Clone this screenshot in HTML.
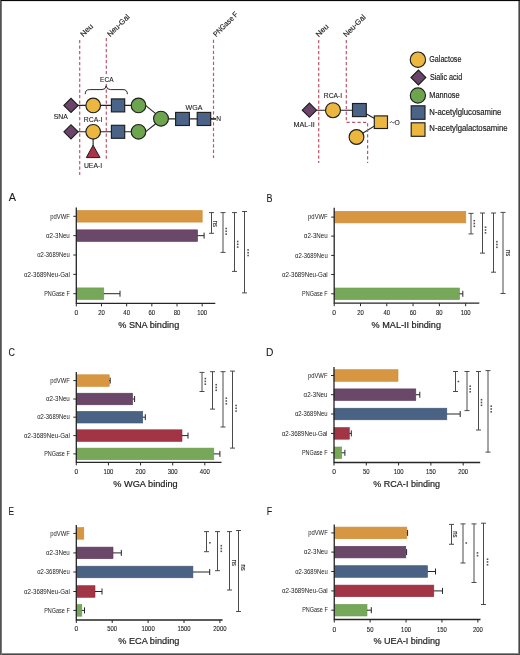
<!DOCTYPE html>
<html><head><meta charset="utf-8"><title>Lectin binding figure</title>
<style>
html,body{margin:0;padding:0;background:#fff;}
body{width:520px;height:655px;overflow:hidden;}
svg{display:block;font-family:"Liberation Sans",sans-serif;will-change:transform;}
</style></head>
<body>
<svg width="520" height="655" viewBox="0 0 520 655">
<rect width="520" height="655" fill="#fff"/>
<rect x="0" y="0" width="520" height="1" fill="#070707"/>
<rect x="0" y="1" width="520" height="1" fill="#e6e6e6"/>
<rect x="0" y="0" width="1" height="655" fill="#525252"/>
<rect x="1" y="1" width="1" height="654" fill="#7a7a7a"/>
<rect x="518" y="1" width="1" height="653" fill="#8c8c8c"/>
<rect x="519" y="1" width="1" height="654" fill="#474747"/>
<rect x="2" y="653" width="516" height="1" fill="#8c8c8c"/>
<rect x="2" y="654" width="517" height="1" fill="#474747"/>
<line x1="71" y1="105.4" x2="138.5" y2="105.4" stroke="#222" stroke-width="1.1"/>
<line x1="71" y1="131.8" x2="138.5" y2="131.8" stroke="#222" stroke-width="1.1"/>
<line x1="145.8" y1="105.60000000000001" x2="156.0" y2="113.9" stroke="#222" stroke-width="1.1"/>
<line x1="145.8" y1="131.60000000000002" x2="156.0" y2="123.5" stroke="#222" stroke-width="1.1"/>
<line x1="161" y1="118.9" x2="216" y2="118.9" stroke="#222" stroke-width="1.1"/>
<line x1="93.1" y1="131.8" x2="93.1" y2="146" stroke="#222" stroke-width="1.1"/>
<path d="M79.7,40 L79.7,175" fill="none" stroke="#be566a" stroke-width="1.2" stroke-dasharray="3.2 2.3"/>
<path d="M106.3,38 L106.3,74" fill="none" stroke="#be566a" stroke-width="1.2" stroke-dasharray="3.2 2.3"/>
<path d="M106.3,84 L106.3,159" fill="none" stroke="#be566a" stroke-width="1.2" stroke-dasharray="3.2 2.3"/>
<path d="M213.5,39.7 L213.5,158" fill="none" stroke="#be566a" stroke-width="1.2" stroke-dasharray="3.2 2.3"/>
<path d="M63.9,105.4 L71,98.30000000000001 L78.1,105.4 L71,112.5 Z" fill="#6c446b" stroke="#1e1e1e" stroke-width="1.15"/>
<circle cx="93.2" cy="105.4" r="7.3" fill="#ebb73f" stroke="#1e1e1e" stroke-width="1.15"/>
<rect x="111.4" y="98.9" width="13.3" height="13" fill="#4a6387" stroke="#1e1e1e" stroke-width="1.15"/>
<circle cx="138.5" cy="105.4" r="7.3" fill="#6da54f" stroke="#1e1e1e" stroke-width="1.15"/>
<path d="M63.9,131.8 L71,124.70000000000002 L78.1,131.8 L71,138.9 Z" fill="#6c446b" stroke="#1e1e1e" stroke-width="1.15"/>
<circle cx="93.2" cy="131.8" r="7.3" fill="#ebb73f" stroke="#1e1e1e" stroke-width="1.15"/>
<rect x="111.4" y="125.30000000000001" width="13.3" height="13" fill="#4a6387" stroke="#1e1e1e" stroke-width="1.15"/>
<circle cx="138.5" cy="131.8" r="7.3" fill="#6da54f" stroke="#1e1e1e" stroke-width="1.15"/>
<circle cx="161.0" cy="118.7" r="7.4" fill="#6da54f" stroke="#1e1e1e" stroke-width="1.15"/>
<rect x="175.6" y="112.4" width="13.8" height="13.1" fill="#4a6387" stroke="#1e1e1e" stroke-width="1.15"/>
<rect x="197.2" y="112.4" width="13.5" height="13.1" fill="#4a6387" stroke="#1e1e1e" stroke-width="1.15"/>
<path d="M93.1,145.2 L86.3,157.6 L100,157.6 Z" fill="#ab3247" stroke="#1e1e1e" stroke-width="1"/>
<path d="M85.2,94.2 Q85.2,89.6 89.5,89.6 L102,89.6 Q105.8,89.6 106.2,85.8 Q106.6,89.6 110.4,89.6 L123,89.6 Q127.4,89.6 127.4,94.2" fill="none" stroke="#2a2a2a" stroke-width="1"/>
<text x="106.80" y="81.80" font-size="7.4" text-anchor="middle" fill="#1c1c1c" stroke="#1c1c1c" stroke-width="0.12" textLength="13.40" lengthAdjust="spacingAndGlyphs" >ECA</text>
<text x="53.80" y="118.80" font-size="7.4" text-anchor="start" fill="#1c1c1c" stroke="#1c1c1c" stroke-width="0.12" textLength="14.10" lengthAdjust="spacingAndGlyphs" >SNA</text>
<text x="83.80" y="122.30" font-size="7.4" text-anchor="start" fill="#1c1c1c" stroke="#1c1c1c" stroke-width="0.12" textLength="18.60" lengthAdjust="spacingAndGlyphs" >RCA-I</text>
<text x="83.90" y="168.00" font-size="7.4" text-anchor="start" fill="#1c1c1c" stroke="#1c1c1c" stroke-width="0.12" textLength="18.30" lengthAdjust="spacingAndGlyphs" >UEA-I</text>
<text x="185.60" y="109.90" font-size="8.0" text-anchor="start" fill="#1c1c1c" stroke="#1c1c1c" stroke-width="0.12" textLength="16.90" lengthAdjust="spacingAndGlyphs" >WGA</text>
<text x="216.20" y="120.60" font-size="7.4" text-anchor="start" fill="#1c1c1c" stroke="#1c1c1c" stroke-width="0.12" textLength="4.80" lengthAdjust="spacingAndGlyphs" >N</text>
<line x1="210.7" y1="118.9" x2="216.0" y2="118.9" stroke="#222" stroke-width="1.1"/>
<text x="0" y="0" font-size="7.6" fill="#1c1c1c" stroke="#1c1c1c" stroke-width="0.15" textLength="14.7" lengthAdjust="spacingAndGlyphs" transform="translate(83.2,37.2) rotate(-45)">Neu</text>
<text x="0" y="0" font-size="7.6" fill="#1c1c1c" stroke="#1c1c1c" stroke-width="0.15" textLength="28.1" lengthAdjust="spacingAndGlyphs" transform="translate(110.2,37.2) rotate(-45)">Neu-Gal</text>
<text x="0" y="0" font-size="7.6" fill="#1c1c1c" stroke="#1c1c1c" stroke-width="0.15" textLength="31.6" lengthAdjust="spacingAndGlyphs" transform="translate(216.2,37.2) rotate(-45)">PNGase F</text>
<line x1="309.4" y1="110.2" x2="359" y2="110.2" stroke="#222" stroke-width="1.1"/>
<line x1="359.4" y1="110" x2="380.8" y2="122.1" stroke="#222" stroke-width="1.1"/>
<line x1="356.5" y1="137" x2="380.8" y2="122.1" stroke="#222" stroke-width="1.1"/>
<path d="M318.7,40 L318.7,163" fill="none" stroke="#be566a" stroke-width="1.2" stroke-dasharray="3.2 2.3"/>
<path d="M346.3,40 L346.3,122.3 L367.6,122.3 L367.6,163" fill="none" stroke="#be566a" stroke-width="1.2" stroke-dasharray="3.2 2.3"/>
<path d="M302.29999999999995,110.2 L309.4,103.10000000000001 L316.5,110.2 L309.4,117.3 Z" fill="#6c446b" stroke="#1e1e1e" stroke-width="1.15"/>
<circle cx="333.0" cy="110.2" r="7.5" fill="#ebb73f" stroke="#1e1e1e" stroke-width="1.15"/>
<rect x="352.5" y="103.5" width="13.8" height="13.1" fill="#4a6387" stroke="#1e1e1e" stroke-width="1.15"/>
<rect x="374.3" y="115.9" width="13.2" height="12.6" fill="#ebb73f" stroke="#1e1e1e" stroke-width="1.15"/>
<circle cx="356.5" cy="137.0" r="7.4" fill="#ebb73f" stroke="#1e1e1e" stroke-width="1.15"/>
<text x="323.80" y="97.60" font-size="7.4" text-anchor="start" fill="#1c1c1c" stroke="#1c1c1c" stroke-width="0.12" textLength="18.40" lengthAdjust="spacingAndGlyphs" >RCA-I</text>
<text x="293.50" y="127.20" font-size="7.4" text-anchor="start" fill="#1c1c1c" stroke="#1c1c1c" stroke-width="0.12" textLength="21.20" lengthAdjust="spacingAndGlyphs" >MAL-II</text>
<path d="M389.9,122.9 C390.9,121.3 391.9,121.5 392.4,122.3 C392.9,123.1 393.8,123.2 394.7,121.7" fill="none" stroke="#2b2b2b" stroke-width="0.8"/>
<text x="394.60" y="124.90" font-size="8.0" text-anchor="start" fill="#1c1c1c" stroke="#1c1c1c" stroke-width="0.1" textLength="5.30" lengthAdjust="spacingAndGlyphs" >O</text>
<text x="0" y="0" font-size="7.6" fill="#1c1c1c" stroke="#1c1c1c" stroke-width="0.15" textLength="14.7" lengthAdjust="spacingAndGlyphs" transform="translate(318.7,37.4) rotate(-45)">Neu</text>
<text x="0" y="0" font-size="7.6" fill="#1c1c1c" stroke="#1c1c1c" stroke-width="0.15" textLength="28.1" lengthAdjust="spacingAndGlyphs" transform="translate(346.3,37.5) rotate(-45)">Neu-Gal</text>
<circle cx="417.9" cy="59.7" r="7.7" fill="#ebb73f" stroke="#1e1e1e" stroke-width="1.15"/>
<path d="M411.0,77.5 L418.4,70.1 L425.79999999999995,77.5 L418.4,84.9 Z" fill="#6c446b" stroke="#1e1e1e" stroke-width="1.15"/>
<circle cx="417.9" cy="95.5" r="7.6" fill="#6da54f" stroke="#1e1e1e" stroke-width="1.15"/>
<rect x="411.2" y="105.8" width="13.8" height="13.5" fill="#4a6387" stroke="#1e1e1e" stroke-width="1.15"/>
<rect x="411.2" y="122.8" width="13.8" height="13.5" fill="#ebb73f" stroke="#1e1e1e" stroke-width="1.15"/>
<text x="429.30" y="62.30" font-size="8.5" text-anchor="start" fill="#1c1c1c" stroke="#1c1c1c" stroke-width="0.18" textLength="32.10" lengthAdjust="spacingAndGlyphs" >Galactose</text>
<text x="429.90" y="79.50" font-size="8.5" text-anchor="start" fill="#1c1c1c" stroke="#1c1c1c" stroke-width="0.18" textLength="32.30" lengthAdjust="spacingAndGlyphs" >Sialic acid</text>
<text x="429.30" y="97.90" font-size="8.5" text-anchor="start" fill="#1c1c1c" stroke="#1c1c1c" stroke-width="0.18" textLength="30.30" lengthAdjust="spacingAndGlyphs" >Mannose</text>
<text x="429.30" y="115.20" font-size="8.5" text-anchor="start" fill="#1c1c1c" stroke="#1c1c1c" stroke-width="0.18" textLength="72.00" lengthAdjust="spacingAndGlyphs" >N-acetylglucosamine</text>
<text x="429.30" y="131.30" font-size="8.5" text-anchor="start" fill="#1c1c1c" stroke="#1c1c1c" stroke-width="0.18" textLength="78.30" lengthAdjust="spacingAndGlyphs" >N-acetylgalactosamine</text>
<text x="8.80" y="201.30" font-size="10.8" text-anchor="start" fill="#1c1c1c" stroke="#1c1c1c" stroke-width="0.1" >A</text>
<rect x="76.30" y="210.50" width="125.90" height="11.6" fill="#d69642" stroke="#cf8a32" stroke-width="0.6"/>
<rect x="76.30" y="229.85" width="121.30" height="11.6" fill="#6b4769" stroke="#5f3a5c" stroke-width="0.6"/>
<line x1="197.60" y1="235.65" x2="204.10" y2="235.65" stroke="#262626" stroke-width="1"/>
<line x1="204.10" y1="232.65" x2="204.10" y2="238.65" stroke="#262626" stroke-width="1"/>
<rect x="76.30" y="287.90" width="27.50" height="11.6" fill="#77a85a" stroke="#6a9c4d" stroke-width="0.6"/>
<line x1="103.80" y1="293.70" x2="120.00" y2="293.70" stroke="#262626" stroke-width="1"/>
<line x1="120.00" y1="290.70" x2="120.00" y2="296.70" stroke="#262626" stroke-width="1"/>
<path d="M76.30,207.50 L76.30,303.40 L215.30,303.40" fill="none" stroke="#262626" stroke-width="1.3"/>
<line x1="73.30" y1="216.30" x2="76.30" y2="216.30" stroke="#262626" stroke-width="1"/>
<text x="69.80" y="218.50" font-size="6.4" text-anchor="end" fill="#1c1c1c" textLength="19.60" lengthAdjust="spacingAndGlyphs" >pdVWF</text>
<line x1="73.30" y1="235.65" x2="76.30" y2="235.65" stroke="#262626" stroke-width="1"/>
<text x="69.80" y="237.85" font-size="6.4" text-anchor="end" fill="#1c1c1c" textLength="23.90" lengthAdjust="spacingAndGlyphs" >&#945;2-3Neu</text>
<line x1="73.30" y1="255.00" x2="76.30" y2="255.00" stroke="#262626" stroke-width="1"/>
<text x="69.80" y="257.20" font-size="6.4" text-anchor="end" fill="#1c1c1c" textLength="32.60" lengthAdjust="spacingAndGlyphs" >&#945;2-3689Neu</text>
<line x1="73.30" y1="274.35" x2="76.30" y2="274.35" stroke="#262626" stroke-width="1"/>
<text x="69.80" y="276.55" font-size="6.4" text-anchor="end" fill="#1c1c1c" textLength="45.80" lengthAdjust="spacingAndGlyphs" >&#945;2-3689Neu-Gal</text>
<line x1="73.30" y1="293.70" x2="76.30" y2="293.70" stroke="#262626" stroke-width="1"/>
<text x="69.80" y="295.90" font-size="6.4" text-anchor="end" fill="#1c1c1c" textLength="25.60" lengthAdjust="spacingAndGlyphs" >PNGase F</text>
<line x1="76.30" y1="303.40" x2="76.30" y2="306.40" stroke="#262626" stroke-width="1"/>
<text x="76.30" y="315.00" font-size="6.7" text-anchor="middle" fill="#1c1c1c" stroke="#1c1c1c" stroke-width="0.1" >0</text>
<line x1="101.48" y1="303.40" x2="101.48" y2="306.40" stroke="#262626" stroke-width="1"/>
<text x="101.48" y="315.00" font-size="6.7" text-anchor="middle" fill="#1c1c1c" stroke="#1c1c1c" stroke-width="0.1" textLength="6.60" lengthAdjust="spacingAndGlyphs" >20</text>
<line x1="126.66" y1="303.40" x2="126.66" y2="306.40" stroke="#262626" stroke-width="1"/>
<text x="126.66" y="315.00" font-size="6.7" text-anchor="middle" fill="#1c1c1c" stroke="#1c1c1c" stroke-width="0.1" textLength="6.60" lengthAdjust="spacingAndGlyphs" >40</text>
<line x1="151.84" y1="303.40" x2="151.84" y2="306.40" stroke="#262626" stroke-width="1"/>
<text x="151.84" y="315.00" font-size="6.7" text-anchor="middle" fill="#1c1c1c" stroke="#1c1c1c" stroke-width="0.1" textLength="6.60" lengthAdjust="spacingAndGlyphs" >60</text>
<line x1="177.02" y1="303.40" x2="177.02" y2="306.40" stroke="#262626" stroke-width="1"/>
<text x="177.02" y="315.00" font-size="6.7" text-anchor="middle" fill="#1c1c1c" stroke="#1c1c1c" stroke-width="0.1" textLength="6.60" lengthAdjust="spacingAndGlyphs" >80</text>
<line x1="202.20" y1="303.40" x2="202.20" y2="306.40" stroke="#262626" stroke-width="1"/>
<text x="202.20" y="315.00" font-size="6.7" text-anchor="middle" fill="#1c1c1c" stroke="#1c1c1c" stroke-width="0.1" textLength="9.90" lengthAdjust="spacingAndGlyphs" >100</text>
<text x="118.20" y="327.50" font-size="9.4" text-anchor="start" fill="#1c1c1c" stroke="#1c1c1c" stroke-width="0.2" textLength="61.10" lengthAdjust="spacingAndGlyphs" >% SNA binding</text>
<path d="M209.00,212.60 L214.00,212.60 M211.50,212.60 L211.50,233.30 M209.00,233.30 L214.00,233.30" fill="none" stroke="#4a4a4a" stroke-width="1"/>
<text x="0" y="0" font-size="6.6" fill="#1c1c1c" stroke="#1c1c1c" stroke-width="0.1" text-anchor="middle" textLength="6.3" lengthAdjust="spacingAndGlyphs" transform="translate(213.10,223.80) rotate(90)">ns</text>
<path d="M220.50,212.60 L225.50,212.60 M223.00,212.60 L223.00,252.40 M220.50,252.40 L225.50,252.40" fill="none" stroke="#4a4a4a" stroke-width="1"/>
<rect x="225.40" y="227.70" width="1.6" height="1.6" fill="#555"/>
<rect x="225.40" y="230.50" width="1.6" height="1.6" fill="#555"/>
<rect x="225.40" y="233.30" width="1.6" height="1.6" fill="#555"/>
<path d="M232.00,212.60 L237.00,212.60 M234.50,212.60 L234.50,271.40 M232.00,271.40 L237.00,271.40" fill="none" stroke="#4a4a4a" stroke-width="1"/>
<rect x="236.90" y="240.70" width="1.6" height="1.6" fill="#555"/>
<rect x="236.90" y="243.50" width="1.6" height="1.6" fill="#555"/>
<rect x="236.90" y="246.30" width="1.6" height="1.6" fill="#555"/>
<path d="M242.00,211.50 L247.00,211.50 M244.50,211.50 L244.50,292.90 M242.00,292.90 L247.00,292.90" fill="none" stroke="#4a4a4a" stroke-width="1"/>
<rect x="247.30" y="249.10" width="1.6" height="1.6" fill="#555"/>
<rect x="247.30" y="251.90" width="1.6" height="1.6" fill="#555"/>
<rect x="247.30" y="254.70" width="1.6" height="1.6" fill="#555"/>
<text x="266.50" y="201.50" font-size="10.8" text-anchor="start" fill="#1c1c1c" stroke="#1c1c1c" stroke-width="0.1" textLength="6.00" lengthAdjust="spacingAndGlyphs" >B</text>
<rect x="334.20" y="211.30" width="131.60" height="11.6" fill="#d69642" stroke="#cf8a32" stroke-width="0.6"/>
<rect x="334.20" y="288.00" width="125.30" height="11.6" fill="#77a85a" stroke="#6a9c4d" stroke-width="0.6"/>
<line x1="459.50" y1="293.80" x2="462.80" y2="293.80" stroke="#262626" stroke-width="1"/>
<line x1="462.80" y1="290.80" x2="462.80" y2="296.80" stroke="#262626" stroke-width="1"/>
<path d="M334.20,207.70 L334.20,303.20 L479.30,303.20" fill="none" stroke="#262626" stroke-width="1.3"/>
<line x1="331.20" y1="217.10" x2="334.20" y2="217.10" stroke="#262626" stroke-width="1"/>
<text x="327.70" y="219.30" font-size="6.4" text-anchor="end" fill="#1c1c1c" textLength="19.60" lengthAdjust="spacingAndGlyphs" >pdVWF</text>
<line x1="331.20" y1="236.10" x2="334.20" y2="236.10" stroke="#262626" stroke-width="1"/>
<text x="327.70" y="238.30" font-size="6.4" text-anchor="end" fill="#1c1c1c" textLength="23.90" lengthAdjust="spacingAndGlyphs" >&#945;2-3Neu</text>
<line x1="331.20" y1="255.40" x2="334.20" y2="255.40" stroke="#262626" stroke-width="1"/>
<text x="327.70" y="257.60" font-size="6.4" text-anchor="end" fill="#1c1c1c" textLength="32.60" lengthAdjust="spacingAndGlyphs" >&#945;2-3689Neu</text>
<line x1="331.20" y1="274.50" x2="334.20" y2="274.50" stroke="#262626" stroke-width="1"/>
<text x="327.70" y="276.70" font-size="6.4" text-anchor="end" fill="#1c1c1c" textLength="45.80" lengthAdjust="spacingAndGlyphs" >&#945;2-3689Neu-Gal</text>
<line x1="331.20" y1="293.80" x2="334.20" y2="293.80" stroke="#262626" stroke-width="1"/>
<text x="327.70" y="296.00" font-size="6.4" text-anchor="end" fill="#1c1c1c" textLength="25.60" lengthAdjust="spacingAndGlyphs" >PNGase F</text>
<line x1="334.20" y1="303.20" x2="334.20" y2="306.20" stroke="#262626" stroke-width="1"/>
<text x="334.20" y="314.60" font-size="6.7" text-anchor="middle" fill="#1c1c1c" stroke="#1c1c1c" stroke-width="0.1" >0</text>
<line x1="360.49" y1="303.20" x2="360.49" y2="306.20" stroke="#262626" stroke-width="1"/>
<text x="360.49" y="314.60" font-size="6.7" text-anchor="middle" fill="#1c1c1c" stroke="#1c1c1c" stroke-width="0.1" textLength="6.60" lengthAdjust="spacingAndGlyphs" >20</text>
<line x1="386.78" y1="303.20" x2="386.78" y2="306.20" stroke="#262626" stroke-width="1"/>
<text x="386.78" y="314.60" font-size="6.7" text-anchor="middle" fill="#1c1c1c" stroke="#1c1c1c" stroke-width="0.1" textLength="6.60" lengthAdjust="spacingAndGlyphs" >40</text>
<line x1="413.07" y1="303.20" x2="413.07" y2="306.20" stroke="#262626" stroke-width="1"/>
<text x="413.07" y="314.60" font-size="6.7" text-anchor="middle" fill="#1c1c1c" stroke="#1c1c1c" stroke-width="0.1" textLength="6.60" lengthAdjust="spacingAndGlyphs" >60</text>
<line x1="439.36" y1="303.20" x2="439.36" y2="306.20" stroke="#262626" stroke-width="1"/>
<text x="439.36" y="314.60" font-size="6.7" text-anchor="middle" fill="#1c1c1c" stroke="#1c1c1c" stroke-width="0.1" textLength="6.60" lengthAdjust="spacingAndGlyphs" >80</text>
<line x1="465.65" y1="303.20" x2="465.65" y2="306.20" stroke="#262626" stroke-width="1"/>
<text x="465.65" y="314.60" font-size="6.7" text-anchor="middle" fill="#1c1c1c" stroke="#1c1c1c" stroke-width="0.1" textLength="9.90" lengthAdjust="spacingAndGlyphs" >100</text>
<text x="371.60" y="327.60" font-size="9.4" text-anchor="start" fill="#1c1c1c" stroke="#1c1c1c" stroke-width="0.2" textLength="69.40" lengthAdjust="spacingAndGlyphs" >% MAL-II binding</text>
<path d="M468.50,213.40 L473.50,213.40 M471.00,213.40 L471.00,233.90 M468.50,233.90 L473.50,233.90" fill="none" stroke="#4a4a4a" stroke-width="1"/>
<rect x="473.50" y="219.90" width="1.6" height="1.6" fill="#555"/>
<rect x="473.50" y="222.70" width="1.6" height="1.6" fill="#555"/>
<rect x="473.50" y="225.50" width="1.6" height="1.6" fill="#555"/>
<path d="M480.00,213.00 L485.00,213.00 M482.50,213.00 L482.50,253.10 M480.00,253.10 L485.00,253.10" fill="none" stroke="#4a4a4a" stroke-width="1"/>
<rect x="484.70" y="226.40" width="1.6" height="1.6" fill="#555"/>
<rect x="484.70" y="229.20" width="1.6" height="1.6" fill="#555"/>
<rect x="484.70" y="232.00" width="1.6" height="1.6" fill="#555"/>
<path d="M491.00,213.00 L496.00,213.00 M493.50,213.00 L493.50,272.20 M491.00,272.20 L496.00,272.20" fill="none" stroke="#4a4a4a" stroke-width="1"/>
<rect x="496.10" y="240.90" width="1.6" height="1.6" fill="#555"/>
<rect x="496.10" y="243.70" width="1.6" height="1.6" fill="#555"/>
<rect x="496.10" y="246.50" width="1.6" height="1.6" fill="#555"/>
<path d="M500.50,212.40 L505.50,212.40 M503.00,212.40 L503.00,293.50 M500.50,293.50 L505.50,293.50" fill="none" stroke="#4a4a4a" stroke-width="1"/>
<text x="0" y="0" font-size="6.6" fill="#1c1c1c" stroke="#1c1c1c" stroke-width="0.1" text-anchor="middle" textLength="6.3" lengthAdjust="spacingAndGlyphs" transform="translate(506.00,253.20) rotate(90)">ns</text>
<text x="8.60" y="355.80" font-size="10.8" text-anchor="start" fill="#1c1c1c" stroke="#1c1c1c" stroke-width="0.1" textLength="6.40" lengthAdjust="spacingAndGlyphs" >C</text>
<rect x="76.30" y="374.80" width="32.90" height="11.6" fill="#d69642" stroke="#cf8a32" stroke-width="0.6"/>
<line x1="109.20" y1="380.60" x2="110.20" y2="380.60" stroke="#262626" stroke-width="1"/>
<line x1="110.20" y1="377.60" x2="110.20" y2="383.60" stroke="#262626" stroke-width="1"/>
<rect x="76.30" y="393.20" width="56.30" height="11.6" fill="#6b4769" stroke="#5f3a5c" stroke-width="0.6"/>
<line x1="132.60" y1="399.00" x2="134.60" y2="399.00" stroke="#262626" stroke-width="1"/>
<line x1="134.60" y1="396.00" x2="134.60" y2="402.00" stroke="#262626" stroke-width="1"/>
<rect x="76.30" y="411.40" width="66.40" height="11.6" fill="#4a6283" stroke="#3f5677" stroke-width="0.6"/>
<line x1="142.70" y1="417.20" x2="145.30" y2="417.20" stroke="#262626" stroke-width="1"/>
<line x1="145.30" y1="414.20" x2="145.30" y2="420.20" stroke="#262626" stroke-width="1"/>
<rect x="76.30" y="429.80" width="105.70" height="11.6" fill="#a23545" stroke="#962a3a" stroke-width="0.6"/>
<line x1="182.00" y1="435.60" x2="188.00" y2="435.60" stroke="#262626" stroke-width="1"/>
<line x1="188.00" y1="432.60" x2="188.00" y2="438.60" stroke="#262626" stroke-width="1"/>
<rect x="76.30" y="448.10" width="137.50" height="11.6" fill="#77a85a" stroke="#6a9c4d" stroke-width="0.6"/>
<line x1="213.80" y1="453.90" x2="219.90" y2="453.90" stroke="#262626" stroke-width="1"/>
<line x1="219.90" y1="450.90" x2="219.90" y2="456.90" stroke="#262626" stroke-width="1"/>
<path d="M76.30,372.00 L76.30,462.40 L221.50,462.40" fill="none" stroke="#262626" stroke-width="1.3"/>
<line x1="73.30" y1="380.60" x2="76.30" y2="380.60" stroke="#262626" stroke-width="1"/>
<text x="69.80" y="382.80" font-size="6.4" text-anchor="end" fill="#1c1c1c" textLength="19.60" lengthAdjust="spacingAndGlyphs" >pdVWF</text>
<line x1="73.30" y1="399.00" x2="76.30" y2="399.00" stroke="#262626" stroke-width="1"/>
<text x="69.80" y="401.20" font-size="6.4" text-anchor="end" fill="#1c1c1c" textLength="23.90" lengthAdjust="spacingAndGlyphs" >&#945;2-3Neu</text>
<line x1="73.30" y1="417.20" x2="76.30" y2="417.20" stroke="#262626" stroke-width="1"/>
<text x="69.80" y="419.40" font-size="6.4" text-anchor="end" fill="#1c1c1c" textLength="32.60" lengthAdjust="spacingAndGlyphs" >&#945;2-3689Neu</text>
<line x1="73.30" y1="435.60" x2="76.30" y2="435.60" stroke="#262626" stroke-width="1"/>
<text x="69.80" y="437.80" font-size="6.4" text-anchor="end" fill="#1c1c1c" textLength="45.80" lengthAdjust="spacingAndGlyphs" >&#945;2-3689Neu-Gal</text>
<line x1="73.30" y1="453.90" x2="76.30" y2="453.90" stroke="#262626" stroke-width="1"/>
<text x="69.80" y="456.10" font-size="6.4" text-anchor="end" fill="#1c1c1c" textLength="25.60" lengthAdjust="spacingAndGlyphs" >PNGase F</text>
<line x1="76.30" y1="462.40" x2="76.30" y2="465.40" stroke="#262626" stroke-width="1"/>
<text x="76.30" y="473.90" font-size="6.7" text-anchor="middle" fill="#1c1c1c" stroke="#1c1c1c" stroke-width="0.1" >0</text>
<line x1="108.43" y1="462.40" x2="108.43" y2="465.40" stroke="#262626" stroke-width="1"/>
<text x="108.43" y="473.90" font-size="6.7" text-anchor="middle" fill="#1c1c1c" stroke="#1c1c1c" stroke-width="0.1" textLength="9.90" lengthAdjust="spacingAndGlyphs" >100</text>
<line x1="140.56" y1="462.40" x2="140.56" y2="465.40" stroke="#262626" stroke-width="1"/>
<text x="140.56" y="473.90" font-size="6.7" text-anchor="middle" fill="#1c1c1c" stroke="#1c1c1c" stroke-width="0.1" textLength="9.90" lengthAdjust="spacingAndGlyphs" >200</text>
<line x1="172.69" y1="462.40" x2="172.69" y2="465.40" stroke="#262626" stroke-width="1"/>
<text x="172.69" y="473.90" font-size="6.7" text-anchor="middle" fill="#1c1c1c" stroke="#1c1c1c" stroke-width="0.1" textLength="9.90" lengthAdjust="spacingAndGlyphs" >300</text>
<line x1="204.82" y1="462.40" x2="204.82" y2="465.40" stroke="#262626" stroke-width="1"/>
<text x="204.82" y="473.90" font-size="6.7" text-anchor="middle" fill="#1c1c1c" stroke="#1c1c1c" stroke-width="0.1" textLength="9.90" lengthAdjust="spacingAndGlyphs" >400</text>
<text x="113.30" y="487.10" font-size="9.4" text-anchor="start" fill="#1c1c1c" stroke="#1c1c1c" stroke-width="0.2" textLength="64.40" lengthAdjust="spacingAndGlyphs" >% WGA binding</text>
<path d="M199.50,372.40 L204.50,372.40 M202.00,372.40 L202.00,391.50 M199.50,391.50 L204.50,391.50" fill="none" stroke="#4a4a4a" stroke-width="1"/>
<rect x="204.50" y="377.80" width="1.6" height="1.6" fill="#555"/>
<rect x="204.50" y="380.60" width="1.6" height="1.6" fill="#555"/>
<rect x="204.50" y="383.40" width="1.6" height="1.6" fill="#555"/>
<path d="M210.00,371.70 L215.00,371.70 M212.50,371.70 L212.50,409.10 M210.00,409.10 L215.00,409.10" fill="none" stroke="#4a4a4a" stroke-width="1"/>
<rect x="215.40" y="383.90" width="1.6" height="1.6" fill="#555"/>
<rect x="215.40" y="386.70" width="1.6" height="1.6" fill="#555"/>
<rect x="215.40" y="389.50" width="1.6" height="1.6" fill="#555"/>
<path d="M220.50,371.70 L225.50,371.70 M223.00,371.70 L223.00,427.00 M220.50,427.00 L225.50,427.00" fill="none" stroke="#4a4a4a" stroke-width="1"/>
<rect x="225.50" y="397.40" width="1.6" height="1.6" fill="#555"/>
<rect x="225.50" y="400.20" width="1.6" height="1.6" fill="#555"/>
<rect x="225.50" y="403.00" width="1.6" height="1.6" fill="#555"/>
<path d="M230.00,371.10 L235.00,371.10 M232.50,371.10 L232.50,448.10 M230.00,448.10 L235.00,448.10" fill="none" stroke="#4a4a4a" stroke-width="1"/>
<rect x="235.30" y="404.70" width="1.6" height="1.6" fill="#555"/>
<rect x="235.30" y="407.50" width="1.6" height="1.6" fill="#555"/>
<rect x="235.30" y="410.30" width="1.6" height="1.6" fill="#555"/>
<text x="266.00" y="355.80" font-size="10.8" text-anchor="start" fill="#1c1c1c" stroke="#1c1c1c" stroke-width="0.1" textLength="7.40" lengthAdjust="spacingAndGlyphs" >D</text>
<rect x="334.00" y="369.70" width="64.00" height="11.6" fill="#d69642" stroke="#cf8a32" stroke-width="0.6"/>
<rect x="334.00" y="388.90" width="81.80" height="11.6" fill="#6b4769" stroke="#5f3a5c" stroke-width="0.6"/>
<line x1="415.80" y1="394.70" x2="419.80" y2="394.70" stroke="#262626" stroke-width="1"/>
<line x1="419.80" y1="391.70" x2="419.80" y2="397.70" stroke="#262626" stroke-width="1"/>
<rect x="334.00" y="408.20" width="112.80" height="11.6" fill="#4a6283" stroke="#3f5677" stroke-width="0.6"/>
<line x1="446.80" y1="414.00" x2="460.20" y2="414.00" stroke="#262626" stroke-width="1"/>
<line x1="460.20" y1="411.00" x2="460.20" y2="417.00" stroke="#262626" stroke-width="1"/>
<rect x="334.00" y="427.60" width="15.30" height="11.6" fill="#a23545" stroke="#962a3a" stroke-width="0.6"/>
<line x1="349.30" y1="433.40" x2="351.30" y2="433.40" stroke="#262626" stroke-width="1"/>
<line x1="351.30" y1="430.40" x2="351.30" y2="436.40" stroke="#262626" stroke-width="1"/>
<rect x="334.00" y="447.00" width="7.70" height="11.6" fill="#77a85a" stroke="#6a9c4d" stroke-width="0.6"/>
<line x1="341.70" y1="452.80" x2="344.90" y2="452.80" stroke="#262626" stroke-width="1"/>
<line x1="344.90" y1="449.80" x2="344.90" y2="455.80" stroke="#262626" stroke-width="1"/>
<path d="M334.00,367.00 L334.00,462.50 L480.20,462.50" fill="none" stroke="#262626" stroke-width="1.3"/>
<line x1="331.00" y1="375.50" x2="334.00" y2="375.50" stroke="#262626" stroke-width="1"/>
<text x="327.50" y="377.70" font-size="6.4" text-anchor="end" fill="#1c1c1c" textLength="19.60" lengthAdjust="spacingAndGlyphs" >pdVWF</text>
<line x1="331.00" y1="394.70" x2="334.00" y2="394.70" stroke="#262626" stroke-width="1"/>
<text x="327.50" y="396.90" font-size="6.4" text-anchor="end" fill="#1c1c1c" textLength="23.90" lengthAdjust="spacingAndGlyphs" >&#945;2-3Neu</text>
<line x1="331.00" y1="414.00" x2="334.00" y2="414.00" stroke="#262626" stroke-width="1"/>
<text x="327.50" y="416.20" font-size="6.4" text-anchor="end" fill="#1c1c1c" textLength="32.60" lengthAdjust="spacingAndGlyphs" >&#945;2-3689Neu</text>
<line x1="331.00" y1="433.40" x2="334.00" y2="433.40" stroke="#262626" stroke-width="1"/>
<text x="327.50" y="435.60" font-size="6.4" text-anchor="end" fill="#1c1c1c" textLength="45.80" lengthAdjust="spacingAndGlyphs" >&#945;2-3689Neu-Gal</text>
<line x1="331.00" y1="452.80" x2="334.00" y2="452.80" stroke="#262626" stroke-width="1"/>
<text x="327.50" y="455.00" font-size="6.4" text-anchor="end" fill="#1c1c1c" textLength="25.60" lengthAdjust="spacingAndGlyphs" >PNGase F</text>
<line x1="334.00" y1="462.50" x2="334.00" y2="465.50" stroke="#262626" stroke-width="1"/>
<text x="334.00" y="473.60" font-size="6.7" text-anchor="middle" fill="#1c1c1c" stroke="#1c1c1c" stroke-width="0.1" >0</text>
<line x1="366.30" y1="462.50" x2="366.30" y2="465.50" stroke="#262626" stroke-width="1"/>
<text x="366.30" y="473.60" font-size="6.7" text-anchor="middle" fill="#1c1c1c" stroke="#1c1c1c" stroke-width="0.1" textLength="6.60" lengthAdjust="spacingAndGlyphs" >50</text>
<line x1="398.60" y1="462.50" x2="398.60" y2="465.50" stroke="#262626" stroke-width="1"/>
<text x="398.60" y="473.60" font-size="6.7" text-anchor="middle" fill="#1c1c1c" stroke="#1c1c1c" stroke-width="0.1" textLength="9.90" lengthAdjust="spacingAndGlyphs" >100</text>
<line x1="430.90" y1="462.50" x2="430.90" y2="465.50" stroke="#262626" stroke-width="1"/>
<text x="430.90" y="473.60" font-size="6.7" text-anchor="middle" fill="#1c1c1c" stroke="#1c1c1c" stroke-width="0.1" textLength="9.90" lengthAdjust="spacingAndGlyphs" >150</text>
<line x1="463.20" y1="462.50" x2="463.20" y2="465.50" stroke="#262626" stroke-width="1"/>
<text x="463.20" y="473.60" font-size="6.7" text-anchor="middle" fill="#1c1c1c" stroke="#1c1c1c" stroke-width="0.1" textLength="9.90" lengthAdjust="spacingAndGlyphs" >200</text>
<text x="373.30" y="487.20" font-size="9.4" text-anchor="start" fill="#1c1c1c" stroke="#1c1c1c" stroke-width="0.2" textLength="66.70" lengthAdjust="spacingAndGlyphs" >% RCA-I binding</text>
<path d="M453.00,371.50 L458.00,371.50 M455.50,371.50 L455.50,391.50 M453.00,391.50 L458.00,391.50" fill="none" stroke="#4a4a4a" stroke-width="1"/>
<rect x="457.60" y="380.70" width="1.6" height="1.6" fill="#555"/>
<path d="M464.50,371.50 L469.50,371.50 M467.00,371.50 L467.00,410.60 M464.50,410.60 L469.50,410.60" fill="none" stroke="#4a4a4a" stroke-width="1"/>
<rect x="469.40" y="385.40" width="1.6" height="1.6" fill="#555"/>
<rect x="469.40" y="388.20" width="1.6" height="1.6" fill="#555"/>
<rect x="469.40" y="391.00" width="1.6" height="1.6" fill="#555"/>
<path d="M476.00,371.50 L481.00,371.50 M478.50,371.50 L478.50,430.00 M476.00,430.00 L481.00,430.00" fill="none" stroke="#4a4a4a" stroke-width="1"/>
<rect x="480.70" y="398.90" width="1.6" height="1.6" fill="#555"/>
<rect x="480.70" y="401.70" width="1.6" height="1.6" fill="#555"/>
<rect x="480.70" y="404.50" width="1.6" height="1.6" fill="#555"/>
<path d="M485.50,370.60 L490.50,370.60 M488.00,370.60 L488.00,452.10 M485.50,452.10 L490.50,452.10" fill="none" stroke="#4a4a4a" stroke-width="1"/>
<rect x="490.40" y="405.40" width="1.6" height="1.6" fill="#555"/>
<rect x="490.40" y="408.20" width="1.6" height="1.6" fill="#555"/>
<rect x="490.40" y="411.00" width="1.6" height="1.6" fill="#555"/>
<text x="8.60" y="515.00" font-size="10.8" text-anchor="start" fill="#1c1c1c" stroke="#1c1c1c" stroke-width="0.1" textLength="5.50" lengthAdjust="spacingAndGlyphs" >E</text>
<rect x="76.30" y="527.60" width="7.50" height="11.6" fill="#d69642" stroke="#cf8a32" stroke-width="0.6"/>
<rect x="76.30" y="547.10" width="36.70" height="11.6" fill="#6b4769" stroke="#5f3a5c" stroke-width="0.6"/>
<line x1="113.00" y1="552.90" x2="121.30" y2="552.90" stroke="#262626" stroke-width="1"/>
<line x1="121.30" y1="549.90" x2="121.30" y2="555.90" stroke="#262626" stroke-width="1"/>
<rect x="76.30" y="566.20" width="116.60" height="11.6" fill="#4a6283" stroke="#3f5677" stroke-width="0.6"/>
<line x1="192.90" y1="572.00" x2="209.70" y2="572.00" stroke="#262626" stroke-width="1"/>
<line x1="209.70" y1="569.00" x2="209.70" y2="575.00" stroke="#262626" stroke-width="1"/>
<rect x="76.30" y="585.70" width="18.70" height="11.6" fill="#a23545" stroke="#962a3a" stroke-width="0.6"/>
<line x1="95.00" y1="591.50" x2="102.00" y2="591.50" stroke="#262626" stroke-width="1"/>
<line x1="102.00" y1="588.50" x2="102.00" y2="594.50" stroke="#262626" stroke-width="1"/>
<rect x="76.30" y="604.60" width="5.50" height="11.6" fill="#77a85a" stroke="#6a9c4d" stroke-width="0.6"/>
<line x1="81.80" y1="610.40" x2="84.50" y2="610.40" stroke="#262626" stroke-width="1"/>
<line x1="84.50" y1="607.40" x2="84.50" y2="613.40" stroke="#262626" stroke-width="1"/>
<path d="M76.30,525.00 L76.30,620.00 L222.60,620.00" fill="none" stroke="#262626" stroke-width="1.3"/>
<line x1="73.30" y1="533.40" x2="76.30" y2="533.40" stroke="#262626" stroke-width="1"/>
<text x="69.80" y="535.60" font-size="6.4" text-anchor="end" fill="#1c1c1c" textLength="19.60" lengthAdjust="spacingAndGlyphs" >pdVWF</text>
<line x1="73.30" y1="552.90" x2="76.30" y2="552.90" stroke="#262626" stroke-width="1"/>
<text x="69.80" y="555.10" font-size="6.4" text-anchor="end" fill="#1c1c1c" textLength="23.90" lengthAdjust="spacingAndGlyphs" >&#945;2-3Neu</text>
<line x1="73.30" y1="572.00" x2="76.30" y2="572.00" stroke="#262626" stroke-width="1"/>
<text x="69.80" y="574.20" font-size="6.4" text-anchor="end" fill="#1c1c1c" textLength="32.60" lengthAdjust="spacingAndGlyphs" >&#945;2-3689Neu</text>
<line x1="73.30" y1="591.50" x2="76.30" y2="591.50" stroke="#262626" stroke-width="1"/>
<text x="69.80" y="593.70" font-size="6.4" text-anchor="end" fill="#1c1c1c" textLength="45.80" lengthAdjust="spacingAndGlyphs" >&#945;2-3689Neu-Gal</text>
<line x1="73.30" y1="610.40" x2="76.30" y2="610.40" stroke="#262626" stroke-width="1"/>
<text x="69.80" y="612.60" font-size="6.4" text-anchor="end" fill="#1c1c1c" textLength="25.60" lengthAdjust="spacingAndGlyphs" >PNGase F</text>
<line x1="76.30" y1="620.00" x2="76.30" y2="623.00" stroke="#262626" stroke-width="1"/>
<text x="76.30" y="630.70" font-size="6.7" text-anchor="middle" fill="#1c1c1c" stroke="#1c1c1c" stroke-width="0.1" >0</text>
<line x1="112.20" y1="620.00" x2="112.20" y2="623.00" stroke="#262626" stroke-width="1"/>
<text x="112.20" y="630.70" font-size="6.7" text-anchor="middle" fill="#1c1c1c" stroke="#1c1c1c" stroke-width="0.1" textLength="9.90" lengthAdjust="spacingAndGlyphs" >500</text>
<line x1="148.10" y1="620.00" x2="148.10" y2="623.00" stroke="#262626" stroke-width="1"/>
<text x="148.10" y="630.70" font-size="6.7" text-anchor="middle" fill="#1c1c1c" stroke="#1c1c1c" stroke-width="0.1" textLength="13.20" lengthAdjust="spacingAndGlyphs" >1000</text>
<line x1="184.00" y1="620.00" x2="184.00" y2="623.00" stroke="#262626" stroke-width="1"/>
<text x="184.00" y="630.70" font-size="6.7" text-anchor="middle" fill="#1c1c1c" stroke="#1c1c1c" stroke-width="0.1" textLength="13.20" lengthAdjust="spacingAndGlyphs" >1500</text>
<line x1="219.90" y1="620.00" x2="219.90" y2="623.00" stroke="#262626" stroke-width="1"/>
<text x="219.90" y="630.70" font-size="6.7" text-anchor="middle" fill="#1c1c1c" stroke="#1c1c1c" stroke-width="0.1" textLength="13.20" lengthAdjust="spacingAndGlyphs" >2000</text>
<text x="118.20" y="644.20" font-size="9.4" text-anchor="start" fill="#1c1c1c" stroke="#1c1c1c" stroke-width="0.2" textLength="61.20" lengthAdjust="spacingAndGlyphs" >% ECA binding</text>
<path d="M204.00,531.60 L209.00,531.60 M206.50,531.60 L206.50,551.70 M204.00,551.70 L209.00,551.70" fill="none" stroke="#4a4a4a" stroke-width="1"/>
<rect x="209.10" y="542.00" width="1.6" height="1.6" fill="#555"/>
<path d="M215.00,531.60 L220.00,531.60 M217.50,531.60 L217.50,570.70 M215.00,570.70 L220.00,570.70" fill="none" stroke="#4a4a4a" stroke-width="1"/>
<rect x="220.50" y="544.90" width="1.6" height="1.6" fill="#555"/>
<rect x="220.50" y="547.70" width="1.6" height="1.6" fill="#555"/>
<rect x="220.50" y="550.50" width="1.6" height="1.6" fill="#555"/>
<path d="M227.00,531.60 L232.00,531.60 M229.50,531.60 L229.50,590.00 M227.00,590.00 L232.00,590.00" fill="none" stroke="#4a4a4a" stroke-width="1"/>
<text x="0" y="0" font-size="6.6" fill="#1c1c1c" stroke="#1c1c1c" stroke-width="0.1" text-anchor="middle" textLength="6.3" lengthAdjust="spacingAndGlyphs" transform="translate(232.20,562.90) rotate(90)">ns</text>
<path d="M236.00,530.50 L241.00,530.50 M238.50,530.50 L238.50,611.50 M236.00,611.50 L241.00,611.50" fill="none" stroke="#4a4a4a" stroke-width="1"/>
<text x="0" y="0" font-size="6.6" fill="#1c1c1c" stroke="#1c1c1c" stroke-width="0.1" text-anchor="middle" textLength="6.3" lengthAdjust="spacingAndGlyphs" transform="translate(241.30,567.70) rotate(90)">ns</text>
<text x="266.80" y="515.00" font-size="10.8" text-anchor="start" fill="#1c1c1c" stroke="#1c1c1c" stroke-width="0.1" textLength="5.40" lengthAdjust="spacingAndGlyphs" >F</text>
<rect x="334.25" y="527.10" width="72.55" height="11.6" fill="#d69642" stroke="#cf8a32" stroke-width="0.6"/>
<line x1="406.80" y1="532.90" x2="407.60" y2="532.90" stroke="#262626" stroke-width="1"/>
<line x1="407.60" y1="529.90" x2="407.60" y2="535.90" stroke="#262626" stroke-width="1"/>
<rect x="334.25" y="546.30" width="71.55" height="11.6" fill="#6b4769" stroke="#5f3a5c" stroke-width="0.6"/>
<line x1="405.80" y1="552.10" x2="406.60" y2="552.10" stroke="#262626" stroke-width="1"/>
<line x1="406.60" y1="549.10" x2="406.60" y2="555.10" stroke="#262626" stroke-width="1"/>
<rect x="334.25" y="565.70" width="93.25" height="11.6" fill="#4a6283" stroke="#3f5677" stroke-width="0.6"/>
<line x1="427.50" y1="571.50" x2="435.50" y2="571.50" stroke="#262626" stroke-width="1"/>
<line x1="435.50" y1="568.50" x2="435.50" y2="574.50" stroke="#262626" stroke-width="1"/>
<rect x="334.25" y="585.10" width="99.55" height="11.6" fill="#a23545" stroke="#962a3a" stroke-width="0.6"/>
<line x1="433.80" y1="590.90" x2="442.50" y2="590.90" stroke="#262626" stroke-width="1"/>
<line x1="442.50" y1="587.90" x2="442.50" y2="593.90" stroke="#262626" stroke-width="1"/>
<rect x="334.25" y="604.40" width="32.75" height="11.6" fill="#77a85a" stroke="#6a9c4d" stroke-width="0.6"/>
<line x1="367.00" y1="610.20" x2="371.30" y2="610.20" stroke="#262626" stroke-width="1"/>
<line x1="371.30" y1="607.20" x2="371.30" y2="613.20" stroke="#262626" stroke-width="1"/>
<path d="M334.25,524.50 L334.25,619.50 L480.50,619.50" fill="none" stroke="#262626" stroke-width="1.3"/>
<line x1="331.25" y1="532.90" x2="334.25" y2="532.90" stroke="#262626" stroke-width="1"/>
<text x="327.75" y="535.10" font-size="6.4" text-anchor="end" fill="#1c1c1c" textLength="19.60" lengthAdjust="spacingAndGlyphs" >pdVWF</text>
<line x1="331.25" y1="552.10" x2="334.25" y2="552.10" stroke="#262626" stroke-width="1"/>
<text x="327.75" y="554.30" font-size="6.4" text-anchor="end" fill="#1c1c1c" textLength="23.90" lengthAdjust="spacingAndGlyphs" >&#945;2-3Neu</text>
<line x1="331.25" y1="571.50" x2="334.25" y2="571.50" stroke="#262626" stroke-width="1"/>
<text x="327.75" y="573.70" font-size="6.4" text-anchor="end" fill="#1c1c1c" textLength="32.60" lengthAdjust="spacingAndGlyphs" >&#945;2-3689Neu</text>
<line x1="331.25" y1="590.90" x2="334.25" y2="590.90" stroke="#262626" stroke-width="1"/>
<text x="327.75" y="593.10" font-size="6.4" text-anchor="end" fill="#1c1c1c" textLength="45.80" lengthAdjust="spacingAndGlyphs" >&#945;2-3689Neu-Gal</text>
<line x1="331.25" y1="610.20" x2="334.25" y2="610.20" stroke="#262626" stroke-width="1"/>
<text x="327.75" y="612.40" font-size="6.4" text-anchor="end" fill="#1c1c1c" textLength="25.60" lengthAdjust="spacingAndGlyphs" >PNGase F</text>
<line x1="334.25" y1="619.50" x2="334.25" y2="622.50" stroke="#262626" stroke-width="1"/>
<text x="334.25" y="631.80" font-size="6.7" text-anchor="middle" fill="#1c1c1c" stroke="#1c1c1c" stroke-width="0.1" >0</text>
<line x1="370.15" y1="619.50" x2="370.15" y2="622.50" stroke="#262626" stroke-width="1"/>
<text x="370.15" y="631.80" font-size="6.7" text-anchor="middle" fill="#1c1c1c" stroke="#1c1c1c" stroke-width="0.1" textLength="6.60" lengthAdjust="spacingAndGlyphs" >50</text>
<line x1="406.05" y1="619.50" x2="406.05" y2="622.50" stroke="#262626" stroke-width="1"/>
<text x="406.05" y="631.80" font-size="6.7" text-anchor="middle" fill="#1c1c1c" stroke="#1c1c1c" stroke-width="0.1" textLength="9.90" lengthAdjust="spacingAndGlyphs" >100</text>
<line x1="441.95" y1="619.50" x2="441.95" y2="622.50" stroke="#262626" stroke-width="1"/>
<text x="441.95" y="631.80" font-size="6.7" text-anchor="middle" fill="#1c1c1c" stroke="#1c1c1c" stroke-width="0.1" textLength="9.90" lengthAdjust="spacingAndGlyphs" >150</text>
<line x1="477.85" y1="619.50" x2="477.85" y2="622.50" stroke="#262626" stroke-width="1"/>
<text x="477.85" y="631.80" font-size="6.7" text-anchor="middle" fill="#1c1c1c" stroke="#1c1c1c" stroke-width="0.1" textLength="9.90" lengthAdjust="spacingAndGlyphs" >200</text>
<text x="373.50" y="643.90" font-size="9.4" text-anchor="start" fill="#1c1c1c" stroke="#1c1c1c" stroke-width="0.2" textLength="66.50" lengthAdjust="spacingAndGlyphs" >% UEA-I binding</text>
<path d="M449.00,524.40 L454.00,524.40 M451.50,524.40 L451.50,544.25 M449.00,544.25 L454.00,544.25" fill="none" stroke="#4a4a4a" stroke-width="1"/>
<text x="0" y="0" font-size="6.6" fill="#1c1c1c" stroke="#1c1c1c" stroke-width="0.1" text-anchor="middle" textLength="6.3" lengthAdjust="spacingAndGlyphs" transform="translate(453.20,534.35) rotate(90)">ns</text>
<path d="M460.50,523.90 L465.50,523.90 M463.00,523.90 L463.00,563.00 M460.50,563.00 L465.50,563.00" fill="none" stroke="#4a4a4a" stroke-width="1"/>
<rect x="465.45" y="542.20" width="1.6" height="1.6" fill="#555"/>
<path d="M471.50,523.90 L476.50,523.90 M474.00,523.90 L474.00,582.50 M471.50,582.50 L476.50,582.50" fill="none" stroke="#4a4a4a" stroke-width="1"/>
<rect x="476.70" y="552.05" width="1.6" height="1.6" fill="#555"/>
<rect x="476.70" y="554.85" width="1.6" height="1.6" fill="#555"/>
<path d="M481.00,523.20 L486.00,523.20 M483.50,523.20 L483.50,604.50 M481.00,604.50 L486.00,604.50" fill="none" stroke="#4a4a4a" stroke-width="1"/>
<rect x="486.70" y="558.40" width="1.6" height="1.6" fill="#555"/>
<rect x="486.70" y="561.20" width="1.6" height="1.6" fill="#555"/>
<rect x="486.70" y="564.00" width="1.6" height="1.6" fill="#555"/>
</svg>
</body></html>
